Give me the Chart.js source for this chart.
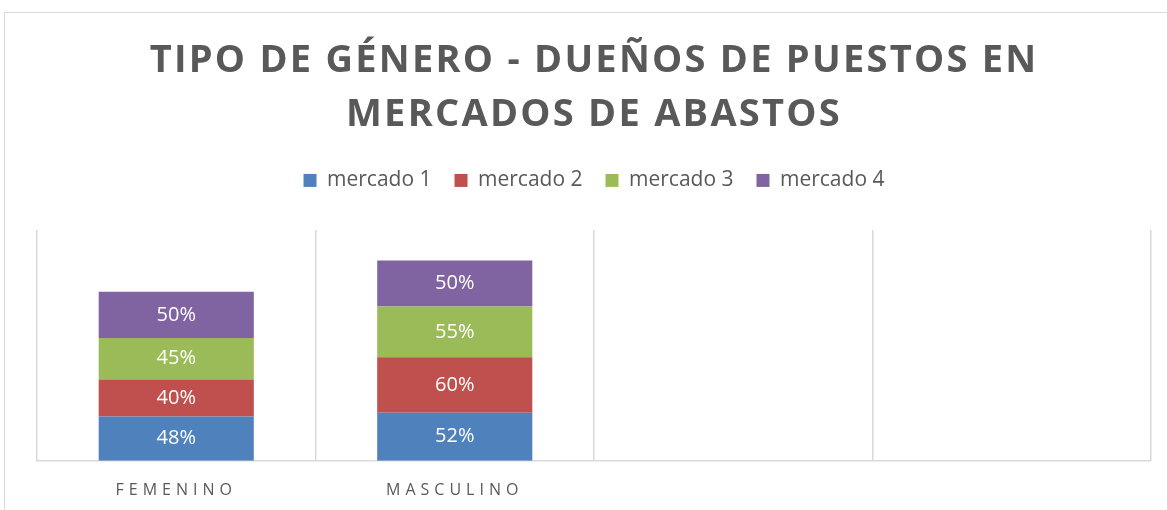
<!DOCTYPE html>
<html>
<head>
<meta charset="utf-8">
<script src="https://cdn.jsdelivr.net/npm/chart.js@4.4.0/dist/chart.umd.min.js"></script>
<style>
  html, body { margin: 0; padding: 0; background: #fff; overflow: hidden; }
  #wrap {
    position: absolute; left: 4px; top: 12px;
    width: 1163px; height: 498px;
    border-top: 1px solid #d9d9d9; border-left: 1px solid #d9d9d9;
  }
</style>
</head>
<body>
<div id="wrap"><canvas id="chartCanvas"></canvas></div>
<script>
// datos
const categorias = ['FEMENINO', 'MASCULINO', '', ''];
const mercado1 = [48, 52, null, null];
const mercado2 = [40, 60, null, null];
const mercado3 = [45, 55, null, null];
const mercado4 = [50, 50, null, null];
const series = ['mercado 1', 'mercado 2', 'mercado 3', 'mercado 4'];
const colores = ['#4f81bd', '#c0504d', '#9bbb59', '#8064a2'];

const gris = '#595959';
const fuente = "'Open Sans', 'Noto Sans', sans-serif";

// etiquetas de valor dentro de cada segmento
const etiquetasPlugin = {
    id: 'etiquetas',
    afterDatasetsDraw(chart) {
        const ctx = chart.ctx;
        ctx.save();
        ctx.font = '20px ' + fuente;
        ctx.fillStyle = '#ffffff';
        ctx.textAlign = 'center';
        ctx.textBaseline = 'middle';
        chart.data.datasets.forEach((ds, i) => {
            chart.getDatasetMeta(i).data.forEach((bar, j) => {
                const v = ds.data[j];
                if (v == null) return;
                const p = bar.getCenterPoint();
                ctx.fillText(v + '%', p.x, p.y);
            });
        });
        ctx.restore();
    }
};

// espaciado de letras para el título y las etiquetas del eje,
// y más aire debajo de la leyenda
const espaciadoPlugin = {
    id: 'espaciado',
    beforeInit(chart) {
        const leg = chart.legend;
        if (leg) {
            const origFit = leg.fit;
            leg.fit = function () {
                origFit.apply(this, arguments);
                this.height += 29;
            };
        }
    },
    beforeDraw(chart) {
        const ctx = chart.ctx;
        const t = chart.titleBlock;
        if (t && !t._conEspacio) {
            const orig = t.draw;
            t.draw = function () {
                ctx.letterSpacing = '2.25px';
                orig.apply(this, arguments);
                ctx.letterSpacing = '0px';
            };
            t._conEspacio = true;
        }
        const x = chart.scales.x;
        if (x && !x._conEspacio) {
            const origL = x.drawLabels;
            x.drawLabels = function () {
                ctx.letterSpacing = '5px';
                origL.apply(this, arguments);
                ctx.letterSpacing = '0px';
            };
            x._conEspacio = true;
        }
    }
};

const datos = [mercado1, mercado2, mercado3, mercado4];

new Chart(document.getElementById('chartCanvas').getContext('2d'), {
    type: 'bar',
    data: {
        labels: categorias,
        datasets: series.map((nombre, i) => ({
            label: nombre,
            data: datos[i],
            backgroundColor: colores[i],
            borderWidth: 0,
            categoryPercentage: 0.557,
            barPercentage: 1
        }))
    },
    options: {
        responsive: true,
        maintainAspectRatio: false,
        animation: false,
        layout: { padding: { left: 32, right: 17, top: 21, bottom: -9 } },
        plugins: {
            title: {
                display: true,
                text: ['TIPO DE GÉNERO - DUEÑOS DE PUESTOS EN', 'MERCADOS DE ABASTOS'],
                color: gris,
                font: { family: fuente, size: 38, weight: 'bold', lineHeight: 1.42 },
                padding: { top: 0, bottom: 5 }
            },
            legend: {
                display: true,
                position: 'top',
                labels: {
                    color: gris,
                    font: { family: fuente, size: 21 },
                    boxWidth: 13,
                    boxHeight: 13,
                    padding: 23
                }
            },
            tooltip: { enabled: false }
        },
        scales: {
            x: {
                stacked: true,
                grid: { display: true, offset: true, color: '#d9d9d9', lineWidth: 1.5, drawTicks: false },
                border: { display: true, color: '#d9d9d9', width: 1.5 },
                ticks: { color: gris, font: { family: fuente, size: 16 }, padding: 20 }
            },
            y: {
                stacked: true,
                display: false,
                min: 0,
                max: 250
            }
        }
    },
    plugins: [etiquetasPlugin, espaciadoPlugin]
});
</script>
</body>
</html>
